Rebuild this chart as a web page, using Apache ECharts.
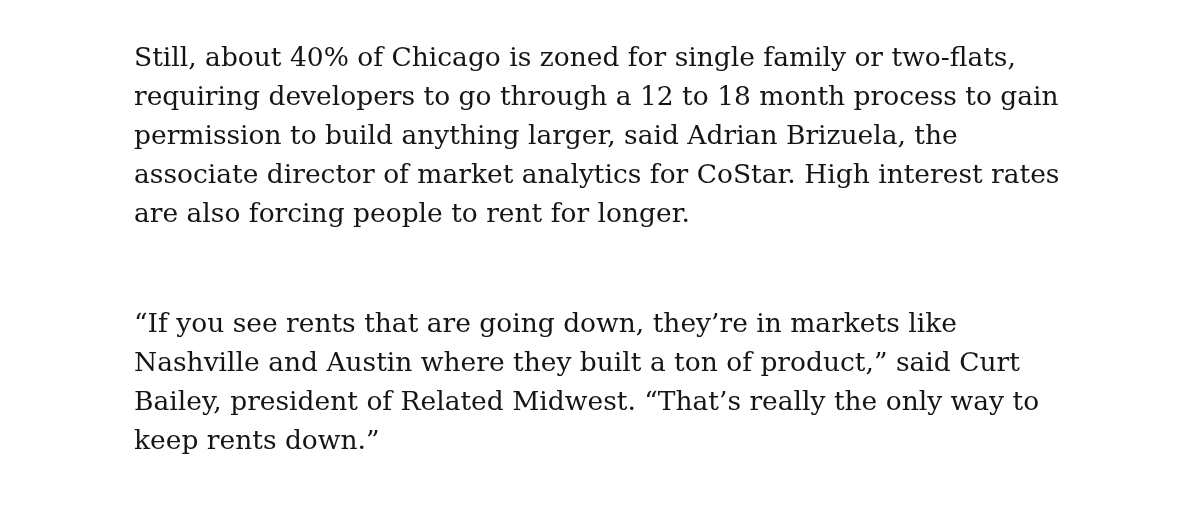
<!DOCTYPE html>
<html><head><meta charset="utf-8">
<script src="https://cdn.jsdelivr.net/npm/echarts@6/dist/echarts.min.js"></script>
<style>html,body{margin:0;padding:0;background:#fff}#c{width:1200px;height:520px}</style>
</head><body><div id="c"></div>
<script>
const paragraph1 = [
  "Still, about 40% of Chicago is zoned for single family or two-flats,",
  "requiring developers to go through a 12 to 18 month process to gain",
  "permission to build anything larger, said Adrian Brizuela, the",
  "associate director of market analytics for CoStar. High interest rates",
  "are also forcing people to rent for longer."
];
const paragraph2 = [
  "\u201cIf you see rents that are going down, they\u2019re in markets like",
  "Nashville and Austin where they built a ton of product,\u201d said Curt",
  "Bailey, president of Related Midwest. \u201cThat\u2019s really the only way to",
  "keep rents down.\u201d"
];
const chart = echarts.init(document.getElementById('c'));
const els = [];
const LEFT = 134, LINE = 39, P1_BASE = 67, P2_BASE = 333, FS = 26.5;
const F = FS + 'px "DejaVu Serif"';
const off = Math.round(FS * 0.3);
paragraph1.forEach((t, i) => els.push({type: 'text', x: LEFT, y: P1_BASE + i * LINE - off,
  style: {text: t, font: F, fill: '#151515', verticalAlign: 'middle'}}));
paragraph2.forEach((t, i) => els.push({type: 'text', x: LEFT, y: P2_BASE + i * LINE - off,
  style: {text: t, font: F, fill: '#151515', verticalAlign: 'middle'}}));
chart.setOption({backgroundColor: '#ffffff', graphic: {elements: els}});
</script></body></html>
